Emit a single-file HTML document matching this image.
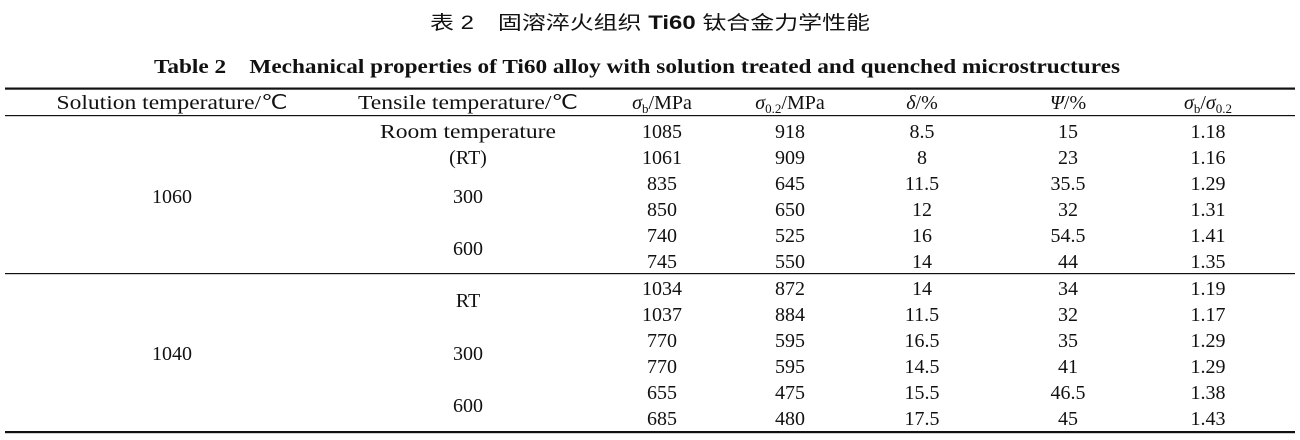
<!DOCTYPE html>
<html><head><meta charset="utf-8"><style>
html,body{margin:0;padding:0;background:#fff;}
svg{display:block}
text{font-family:"Liberation Serif",serif;font-size:20px;fill:#111;}
.cjk{font-family:"Liberation Sans","Noto Sans CJK SC",sans-serif;font-size:19px;}
</style></head><body>
<svg width="1300" height="440" viewBox="0 0 1300 440" xmlns="http://www.w3.org/2000/svg">
<text class="cjk" x="650" y="29" text-anchor="middle" textLength="440" lengthAdjust="spacingAndGlyphs">表 2　固溶淬火组织 <tspan font-weight="bold">Ti60</tspan> 钛合金力学性能</text>
<text x="637" y="73" text-anchor="middle" font-weight="bold" textLength="966" lengthAdjust="spacingAndGlyphs">Table 2　Mechanical properties of Ti60 alloy with solution treated and quenched microstructures</text>
<rect x="5" y="87.5" width="1290" height="2.2" fill="#111"/>
<rect x="5" y="115" width="1290" height="1.2" fill="#111"/>
<rect x="5" y="273" width="1290" height="1.2" fill="#111"/>
<rect x="5" y="431" width="1290" height="2.2" fill="#111"/>
<g text-anchor="middle">
<text x="172" y="109" textLength="231" lengthAdjust="spacingAndGlyphs">Solution temperature/℃</text>
<text x="468" y="109" textLength="220" lengthAdjust="spacingAndGlyphs">Tensile temperature/℃</text>
<text x="662" y="109"><tspan font-style="italic">σ</tspan><tspan font-size="13" dy="4">b</tspan><tspan dy="-4">/MPa</tspan></text>
<text x="790" y="109"><tspan font-style="italic">σ</tspan><tspan font-size="13" dy="4">0.2</tspan><tspan dy="-4">/MPa</tspan></text>
<text x="922" y="109"><tspan font-style="italic">δ</tspan>/%</text>
<text x="1068" y="109"><tspan font-style="italic">Ψ</tspan>/%</text>
<text x="1208" y="109"><tspan font-style="italic">σ</tspan><tspan font-size="13" dy="4">b</tspan><tspan dy="-4">/</tspan><tspan font-style="italic">σ</tspan><tspan font-size="13" dy="4">0.2</tspan></text>

<text x="172" y="203">1060</text>
<text x="172" y="360">1040</text>
<text x="468" y="138" textLength="176" lengthAdjust="spacingAndGlyphs">Room temperature</text>
<text x="468" y="164">(RT)</text>
<text x="468" y="203">300</text>
<text x="468" y="255">600</text>
<text x="468" y="307">RT</text>
<text x="468" y="360">300</text>
<text x="468" y="412">600</text>

<g>
<text x="662" y="138">1085</text><text x="790" y="138">918</text><text x="922" y="138">8.5</text><text x="1068" y="138">15</text><text x="1208" y="138">1.18</text>
<text x="662" y="164">1061</text><text x="790" y="164">909</text><text x="922" y="164">8</text><text x="1068" y="164">23</text><text x="1208" y="164">1.16</text>
<text x="662" y="190">835</text><text x="790" y="190">645</text><text x="922" y="190">11.5</text><text x="1068" y="190">35.5</text><text x="1208" y="190">1.29</text>
<text x="662" y="216">850</text><text x="790" y="216">650</text><text x="922" y="216">12</text><text x="1068" y="216">32</text><text x="1208" y="216">1.31</text>
<text x="662" y="242">740</text><text x="790" y="242">525</text><text x="922" y="242">16</text><text x="1068" y="242">54.5</text><text x="1208" y="242">1.41</text>
<text x="662" y="268">745</text><text x="790" y="268">550</text><text x="922" y="268">14</text><text x="1068" y="268">44</text><text x="1208" y="268">1.35</text>
<text x="662" y="295">1034</text><text x="790" y="295">872</text><text x="922" y="295">14</text><text x="1068" y="295">34</text><text x="1208" y="295">1.19</text>
<text x="662" y="321">1037</text><text x="790" y="321">884</text><text x="922" y="321">11.5</text><text x="1068" y="321">32</text><text x="1208" y="321">1.17</text>
<text x="662" y="347">770</text><text x="790" y="347">595</text><text x="922" y="347">16.5</text><text x="1068" y="347">35</text><text x="1208" y="347">1.29</text>
<text x="662" y="373">770</text><text x="790" y="373">595</text><text x="922" y="373">14.5</text><text x="1068" y="373">41</text><text x="1208" y="373">1.29</text>
<text x="662" y="399">655</text><text x="790" y="399">475</text><text x="922" y="399">15.5</text><text x="1068" y="399">46.5</text><text x="1208" y="399">1.38</text>
<text x="662" y="425">685</text><text x="790" y="425">480</text><text x="922" y="425">17.5</text><text x="1068" y="425">45</text><text x="1208" y="425">1.43</text>
</g>
</g>
</svg>
</body></html>
